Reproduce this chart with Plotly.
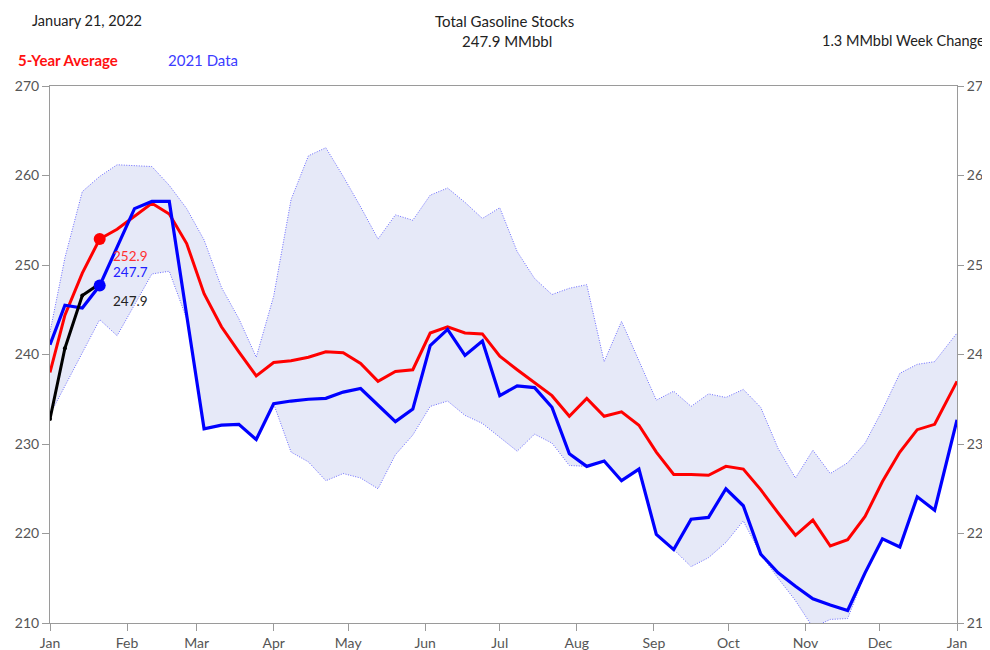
import plotly.graph_objects as go
import pandas as pd

# ---- data ----
week_dates = (["2022-01-01"] +
              [d.strftime("%Y-%m-%d") for d in pd.date_range("2022-01-07", "2022-12-23", freq="7D")] +
              ["2023-01-01"])

data_2021 = [241.1, 245.5, 245.2, 247.7, 252.0, 256.3, 257.1, 257.1, 244.4, 231.7,
             232.1, 232.2, 230.5, 234.5, 234.8, 235.0, 235.1, 235.8, 236.2, 234.3,
             232.5, 233.9, 241.0, 242.8, 239.9, 241.5, 235.4, 236.5, 236.3, 234.1,
             228.9, 227.5, 228.1, 225.9, 227.2, 219.9, 218.2, 221.6, 221.8, 225.0,
             223.1, 217.7, 215.6, 214.1, 212.7, 212.0, 211.4, 215.6, 219.4, 218.5,
             224.1, 222.6, 232.7]

avg_5yr = [238.0, 244.4, 249.1, 252.9, 254.0, 255.5, 256.9, 255.7, 252.4, 246.8,
           243.1, 240.3, 237.6, 239.1, 239.3, 239.7, 240.3, 240.2, 239.0, 237.0,
           238.1, 238.3, 242.4, 243.1, 242.4, 242.3, 239.8, 238.3, 236.9, 235.4,
           233.1, 235.1, 233.1, 233.6, 232.1, 229.1, 226.6, 226.6, 226.5, 227.5,
           227.2, 224.9, 222.3, 219.8, 221.5, 218.6, 219.3, 221.9, 225.8, 229.1,
           231.6, 232.2, 237.0]

range_max = [242.5, 250.8, 258.2, 259.9, 261.2, 261.1, 261.0, 258.9, 256.3, 252.8,
             247.5, 244.0, 239.7, 246.5, 257.3, 262.2, 263.1, 259.9, 256.5, 252.9,
             255.6, 255.0, 257.8, 258.6, 257.0, 255.2, 256.4, 251.5, 248.5, 246.7,
             247.4, 247.8, 239.2, 243.7, 239.2, 234.9, 235.9, 234.2, 235.6, 235.2,
             236.1, 234.1, 229.5, 226.2, 229.3, 226.7, 227.9, 230.1, 233.8, 237.9,
             238.9, 239.2, 242.4]

range_min = [233.3, 236.5, 240.2, 243.9, 242.1, 245.5, 249.0, 249.3, 244.0, 231.7,
             232.1, 232.2, 230.5, 234.5, 229.1, 228.0, 225.9, 226.7, 226.2, 225.0,
             228.8, 231.0, 234.2, 234.8, 233.2, 232.3, 230.7, 229.2, 231.1, 230.1,
             227.6, 227.5, 228.1, 225.9, 227.2, 219.9, 218.2, 216.3, 217.3, 219.0,
             221.4, 217.7, 215.0, 212.5, 209.5, 210.4, 210.5, 215.5, 219.4, 218.5,
             224.1, 222.6, 232.7]

dates_2022 = ["2022-01-01", "2022-01-07", "2022-01-14", "2022-01-21"]
data_2022 = [232.8, 240.7, 246.6, 247.9]

report_date = "January 21, 2022"
y_ticks = [210, 220, 230, 240, 250, 260, 270]

# ---- figure ----
FONT = "Lato, 'Open Sans', sans-serif"
cur_date = dates_2022[-1]
cur_idx = week_dates.index(cur_date)

band_line = dict(color="#6a6aff", width=1, dash="1px,1.5px")

fig = go.Figure()
fig.add_trace(go.Scatter(x=week_dates, y=range_min, mode="lines", line=band_line,
                         hoverinfo="skip", showlegend=False))
fig.add_trace(go.Scatter(x=week_dates, y=range_max, mode="lines", fill="tonexty",
                         fillcolor="rgba(214,219,243,0.62)", line=band_line,
                         hoverinfo="skip", showlegend=False))
fig.add_trace(go.Scatter(x=week_dates, y=avg_5yr, mode="lines",
                         line=dict(color="#ff0000", width=3), showlegend=False))
fig.add_trace(go.Scatter(x=week_dates, y=data_2021, mode="lines",
                         line=dict(color="#0000ff", width=3.2), showlegend=False))
fig.add_trace(go.Scatter(x=dates_2022, y=data_2022, mode="lines+markers",
                         line=dict(color="#000000", width=3),
                         marker=dict(size=4, color="#000000"), showlegend=False))
fig.add_trace(go.Scatter(x=[cur_date], y=[avg_5yr[cur_idx]], mode="markers",
                         marker=dict(size=12, color="#ff0000"), showlegend=False))
fig.add_trace(go.Scatter(x=[cur_date], y=[data_2021[cur_idx]], mode="markers",
                         marker=dict(size=12, color="#0000ff"), showlegend=False))

# value labels
labels = [(avg_5yr[cur_idx], "#ff3030", -17),
          (data_2021[cur_idx], "#2020ff", 14),
          (data_2022[-1], "#222222", -17)]
for val, col, ys in labels:
    fig.add_annotation(x=cur_date, y=val, text=f"{val:.1f}", showarrow=False,
                       xanchor="left", yanchor="middle", xshift=11, yshift=ys,
                       font=dict(family=FONT, size=13.5, color=col))

# header texts (paper coords relative to plot area; page pixels)
def px2x(px):
    return (px - 50) / 907.0

def py2y(py):
    return (623 - py) / 537.0

week_change = data_2022[-1] - data_2022[-2]
hdr = [
    (report_date, px2x(30), py2y(21), "left", "#222222", 14.5, False),
    ("Total Gasoline Stocks", px2x(504), py2y(21), "center", "#222222", 15, False),
    (f"{data_2022[-1]:.1f} MMbbl", px2x(507), py2y(41), "center", "#222222", 15, False),
    (f"{week_change:.1f} MMbbl Week Change", px2x(987), py2y(41), "right", "#222222", 14.5, False),
    ("5-Year Average", px2x(16), py2y(60), "left", "#ff1010", 15, True),
    ("2021 Data", px2x(166), py2y(60), "left", "#3c3cff", 15, False),
]
for txt, x, y, xa, col, sz, bold in hdr:
    fig.add_annotation(x=x, y=y, xref="paper", yref="paper", showarrow=False,
                       text=f"<b>{txt}</b>" if bold else txt, xanchor=xa, yanchor="middle",
                       font=dict(family=FONT, size=sz, color=col))

axis_col = "#9a9a9a"
tick_font = dict(family=FONT, size=14, color="#555555")
# page body has an 8px margin: figure occupies 8..990 x 8..650
fig.update_layout(
    width=982, height=642,
    margin=dict(l=42, r=33, t=78, b=27, autoexpand=False),
    plot_bgcolor="white", paper_bgcolor="white",
    font=dict(family=FONT, size=14, color="#555555"),
    xaxis=dict(type="date", range=["2022-01-01", "2023-01-01"], dtick="M1",
               tick0="2022-01-01", tickformat="%b", ticks="outside", ticklen=7,
               tickcolor=axis_col, showline=True, linecolor=axis_col, linewidth=1,
               mirror=True, showgrid=False, zeroline=False, automargin=False,
               tickfont=tick_font),
    yaxis=dict(range=[210, 270], tickvals=y_ticks, ticks="outside", ticklen=7,
               tickcolor=axis_col, showline=True, linecolor=axis_col, linewidth=1,
               showgrid=False, zeroline=False, automargin=False, tickfont=tick_font),
    yaxis2=dict(range=[210, 270], tickvals=y_ticks, overlaying="y", side="right",
                ticks="outside", ticklen=6, tickcolor=axis_col, showline=True,
                linecolor=axis_col, linewidth=1, showgrid=False, zeroline=False,
                automargin=False, tickfont=tick_font),
    showlegend=False,
)
# invisible trace to anchor the right axis
fig.add_trace(go.Scatter(x=[week_dates[0]], y=[y_ticks[0]], yaxis="y2", mode="markers",
                         marker=dict(opacity=0), hoverinfo="skip", showlegend=False))

fig.write_html("out.html")
